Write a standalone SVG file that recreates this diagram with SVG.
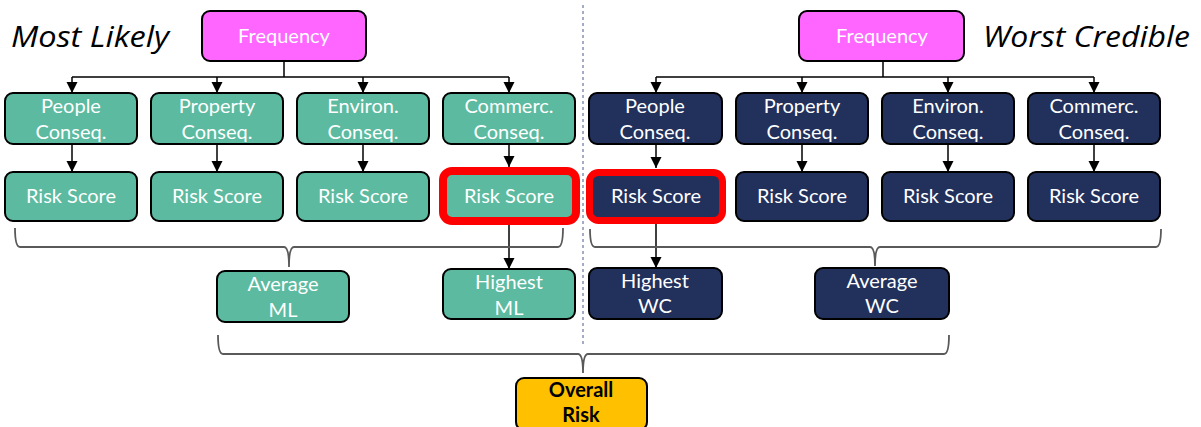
<svg xmlns="http://www.w3.org/2000/svg" width="1201" height="427" viewBox="0 0 1201 427">
<defs>
<marker id="arr" markerWidth="12" markerHeight="12" refX="11" refY="6" orient="auto" markerUnits="userSpaceOnUse">
<path d="M0,0.5 L11,6 L0,11.5 Z" fill="#000"/>
</marker>
<style>
.box{stroke:#000;stroke-width:2}
.teal{fill:#5BBAA0}
.navy{fill:#22305C}
.pink{fill:#FF66FF}
.gold{fill:#FFC000}
.hl{fill:none;stroke:#FF0000;stroke-width:8}
.t{font-family:Lato,"Open Sans",sans-serif;font-size:20px;fill:#fff;text-anchor:middle}
.tb{font-family:Lato,"Open Sans",sans-serif;font-size:20px;font-weight:bold;fill:#000;text-anchor:middle}
.title{font-family:"Open Sans",Lato,sans-serif;font-size:29px;font-style:italic;fill:#000}
.con{fill:none;stroke:#000;stroke-width:1.5}
.brace{fill:none;stroke:#595959;stroke-width:1.8}
</style>
</defs>
<rect width="1201" height="427" fill="#fff"/>
<text class="title" x="11" y="47" textLength="158" lengthAdjust="spacingAndGlyphs">Most Likely</text>
<text class="title" x="983" y="47" textLength="207" lengthAdjust="spacingAndGlyphs">Worst Credible</text>
<line x1="583" y1="5" x2="583" y2="347" stroke="#4A5A88" stroke-width="1" stroke-dasharray="3,3"/>

<g id="connectors">
<path class="con" d="M284,61 V77 M72,77 H509 M883,61 V77 M656,77 H1094"/>
<line class="con" x1="72" y1="77" x2="72" y2="93" marker-end="url(#arr)"/>
<line class="con" x1="217" y1="77" x2="217" y2="93" marker-end="url(#arr)"/>
<line class="con" x1="363" y1="77" x2="363" y2="93" marker-end="url(#arr)"/>
<line class="con" x1="509" y1="77" x2="509" y2="93" marker-end="url(#arr)"/>
<line class="con" x1="656" y1="77" x2="656" y2="93" marker-end="url(#arr)"/>
<line class="con" x1="802" y1="77" x2="802" y2="93" marker-end="url(#arr)"/>
<line class="con" x1="948" y1="77" x2="948" y2="93" marker-end="url(#arr)"/>
<line class="con" x1="1094" y1="77" x2="1094" y2="93" marker-end="url(#arr)"/>
<line class="con" x1="72" y1="144" x2="72" y2="172" marker-end="url(#arr)"/>
<line class="con" x1="217" y1="144" x2="217" y2="172" marker-end="url(#arr)"/>
<line class="con" x1="363" y1="144" x2="363" y2="172" marker-end="url(#arr)"/>
<line class="con" x1="509" y1="144" x2="509" y2="167" marker-end="url(#arr)"/>
<line class="con" x1="656" y1="144" x2="656" y2="168" marker-end="url(#arr)"/>
<line class="con" x1="802" y1="144" x2="802" y2="172" marker-end="url(#arr)"/>
<line class="con" x1="948" y1="144" x2="948" y2="172" marker-end="url(#arr)"/>
<line class="con" x1="1094" y1="144" x2="1094" y2="172" marker-end="url(#arr)"/>
<line class="con" x1="509" y1="225" x2="509" y2="269" marker-end="url(#arr)"/>
<line class="con" x1="656" y1="224" x2="656" y2="268" marker-end="url(#arr)"/>
<path class="brace" d="M15,228 Q15,247 20,247 L284,247 Q289,247 289,267 Q289,247 294,247 L558,247 Q563,247 563,228"/>
<path class="brace" d="M590,229 Q590,247 595,247 L870,247 Q875,247 875,266 Q875,247 880,247 L1156,247 Q1161,247 1161,229"/>
<path class="brace" d="M218,335 Q218,354 223,354 L578,354 Q583,354 583,373 Q583,354 588,354 L944,354 Q949,354 949,335"/>
</g>

<g id="freq-ml"><rect class="box pink" x="202" y="11" width="164" height="50" rx="8"/><text class="t" x="284" y="43">Frequency</text></g>
<g id="freq-wc"><rect class="box pink" x="799" y="11" width="165" height="50" rx="8"/><text class="t" x="882" y="43">Frequency</text></g>

<g id="people-ml"><rect class="box teal" x="5" y="93" width="132" height="51" rx="8"/><text class="t" x="71" y="113">People</text><text class="t" x="71" y="139">Conseq.</text></g>
<g id="property-ml"><rect class="box teal" x="151" y="93" width="132" height="51" rx="8"/><text class="t" x="217" y="113">Property</text><text class="t" x="217" y="139">Conseq.</text></g>
<g id="environ-ml"><rect class="box teal" x="297" y="93" width="132" height="51" rx="8"/><text class="t" x="363" y="113">Environ.</text><text class="t" x="363" y="139">Conseq.</text></g>
<g id="commerc-ml"><rect class="box teal" x="443" y="93" width="132" height="51" rx="8"/><text class="t" x="509" y="113">Commerc.</text><text class="t" x="509" y="139">Conseq.</text></g>

<g id="people-wc"><rect class="box navy" x="589" y="93" width="133" height="51" rx="8"/><text class="t" x="655" y="113">People</text><text class="t" x="655" y="139">Conseq.</text></g>
<g id="property-wc"><rect class="box navy" x="736" y="93" width="132" height="51" rx="8"/><text class="t" x="802" y="113">Property</text><text class="t" x="802" y="139">Conseq.</text></g>
<g id="environ-wc"><rect class="box navy" x="882" y="93" width="132" height="51" rx="8"/><text class="t" x="948" y="113">Environ.</text><text class="t" x="948" y="139">Conseq.</text></g>
<g id="commerc-wc"><rect class="box navy" x="1028" y="93" width="132" height="51" rx="8"/><text class="t" x="1094" y="113">Commerc.</text><text class="t" x="1094" y="139">Conseq.</text></g>

<g id="risk1-ml"><rect class="box teal" x="5" y="172" width="132" height="49" rx="8"/><text class="t" x="71" y="203">Risk Score</text></g>
<g id="risk2-ml"><rect class="box teal" x="151" y="172" width="132" height="49" rx="8"/><text class="t" x="217" y="203">Risk Score</text></g>
<g id="risk3-ml"><rect class="box teal" x="297" y="172" width="132" height="49" rx="8"/><text class="t" x="363" y="203">Risk Score</text></g>
<g id="risk4-ml"><rect class="box teal" x="443" y="171" width="133" height="50" rx="9"/><rect class="hl" x="443" y="171" width="133" height="50" rx="9"/><text class="t" x="509" y="203">Risk Score</text></g>

<g id="risk1-wc"><rect class="box navy" x="589.5" y="172.5" width="133" height="48" rx="9"/><rect class="hl" style="stroke-width:7" x="589.5" y="172.5" width="133" height="48" rx="9"/><text class="t" x="656" y="203">Risk Score</text></g>
<g id="risk2-wc"><rect class="box navy" x="736" y="172" width="132" height="49" rx="8"/><text class="t" x="802" y="203">Risk Score</text></g>
<g id="risk3-wc"><rect class="box navy" x="882" y="172" width="132" height="49" rx="8"/><text class="t" x="948" y="203">Risk Score</text></g>
<g id="risk4-wc"><rect class="box navy" x="1028" y="172" width="132" height="49" rx="8"/><text class="t" x="1094" y="203">Risk Score</text></g>

<g id="average-ml"><rect class="box teal" x="217" y="271" width="132" height="51" rx="8"/><text class="t" x="283" y="291">Average</text><text class="t" x="283" y="317">ML</text></g>
<g id="highest-ml"><rect class="box teal" x="443" y="269" width="132" height="50" rx="8"/><text class="t" x="509" y="289">Highest</text><text class="t" x="509" y="315">ML</text></g>
<g id="highest-wc"><rect class="box navy" x="589" y="268" width="133" height="51" rx="8"/><text class="t" x="655" y="288">Highest</text><text class="t" x="655" y="313">WC</text></g>
<g id="average-wc"><rect class="box navy" x="815" y="268" width="134" height="51" rx="8"/><text class="t" x="882" y="288">Average</text><text class="t" x="882" y="313">WC</text></g>

<g id="overall"><rect class="box gold" x="516" y="378" width="131" height="52" rx="8"/><text class="tb" x="581" y="397">Overall</text><text class="tb" x="581" y="422">Risk</text></g>
</svg>
